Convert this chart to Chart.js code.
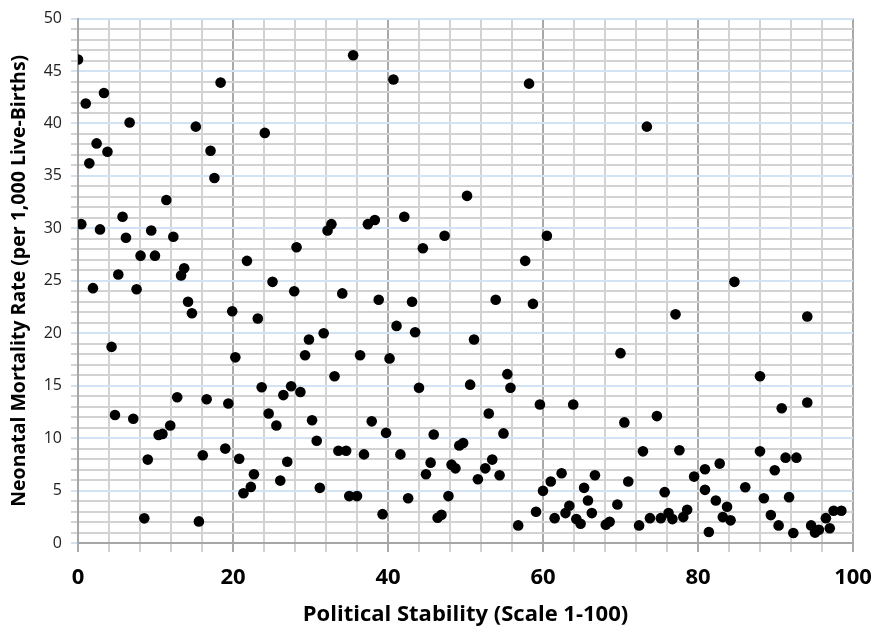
<!DOCTYPE html>
<html>
<head>
<meta charset="utf-8">
<script src="https://cdn.jsdelivr.net/npm/chart.js@4"></script>
<style>
  html, body { margin: 0; padding: 0; background: #fff; }
  #wrap { width: 873px; height: 630px; }
</style>
</head>
<body>
<div id="wrap"><canvas id="scatter" width="873" height="630"></canvas></div>
<script>
// Political stability (x) and neonatal mortality rate (y)
const stability = [
  0.0, 1.0, 3.35, 6.66, 2.4, 3.8, 1.46, 15.2, 18.4, 17.1, 17.6, 24.1, 11.4, 5.75,
  35.5, 40.7, 58.2, 50.2, 42.1, 73.4, 0.43, 2.84, 6.19, 1.93, 5.2, 8.07, 7.56, 9.45,
  9.93, 12.3, 13.7, 13.3, 14.2, 14.7, 4.33, 12.8, 16.6, 19.4, 4.77, 7.13, 21.8, 19.9,
  20.3, 23.2, 25.1, 27.9, 28.2, 23.7, 26.5, 27.5, 28.7, 24.6, 32.7, 32.2, 37.4, 38.3,
  47.3, 60.5, 44.5, 57.7, 34.1, 38.8, 43.1, 53.9, 58.7, 41.1, 43.5, 31.7, 29.8, 51.1,
  29.3, 36.4, 40.2, 33.1, 55.4, 55.8, 50.6, 44.0, 59.6, 63.9, 53.0, 30.2, 37.9, 84.7,
  77.1, 94.1, 70.0, 88.0, 90.8, 94.1, 74.7, 70.5, 10.4, 10.9, 11.9, 9.0, 8.55, 15.6,
  16.1, 19.0, 20.8, 22.7, 22.3, 21.35, 26.1, 27.0, 25.6, 30.8, 31.2, 33.6, 34.6, 35.0,
  36.0, 36.9, 39.75, 39.3, 41.6, 42.6, 44.9, 45.5, 45.9, 46.4, 46.9, 47.8, 48.2, 48.7,
  49.2, 49.7, 51.6, 52.55, 53.45, 54.4, 54.9, 56.8, 59.1, 60.0, 61.0, 62.4, 61.5, 62.9,
  63.4, 64.3, 64.85, 65.3, 65.8, 66.3, 66.7, 68.1, 68.6, 69.6, 71.0, 72.4, 72.9, 73.8,
  75.2, 75.7, 76.2, 76.7, 77.6, 78.1, 78.6, 79.5, 80.9, 80.9, 81.4, 82.3, 82.8, 83.75,
  83.2, 84.2, 86.1, 88.0, 88.5, 89.4, 89.9, 90.4, 91.3, 91.75, 92.3, 92.7, 94.6, 95.1,
  95.6, 96.5, 97.0, 97.5, 98.5
];
const mortality = [
  46.1, 41.9, 42.9, 40.1, 38.1, 37.3, 36.2, 39.7, 43.9, 37.4, 34.8, 39.1, 32.7, 31.1,
  46.5, 44.2, 43.8, 33.1, 31.1, 39.7, 30.4, 29.9, 29.1, 24.3, 25.6, 27.4, 24.2, 29.8,
  27.4, 29.2, 26.2, 25.5, 23.0, 21.9, 18.7, 13.9, 13.7, 13.3, 12.2, 11.85, 26.9, 22.1,
  17.7, 21.4, 24.9, 24.0, 28.2, 14.85, 14.1, 14.95, 14.4, 12.35, 30.4, 29.8, 30.4, 30.8,
  29.3, 29.3, 28.1, 26.9, 23.8, 23.2, 23.0, 23.2, 22.8, 20.7, 20.1, 20.0, 19.4, 19.4,
  17.9, 17.9, 17.6, 15.9, 16.1, 14.8, 15.1, 14.8, 13.2, 13.2, 12.35, 11.7, 11.6, 24.9,
  21.8, 21.6, 18.1, 15.9, 12.85, 13.4, 12.1, 11.5, 10.3, 10.4, 11.2, 7.95, 2.35, 2.06,
  8.36, 9.0, 8.04, 6.55, 5.35, 4.75, 5.95, 7.75, 11.2, 9.75, 5.26, 8.8, 8.8, 4.47,
  4.47, 8.45, 10.5, 2.75, 8.45, 4.27, 6.55, 7.66, 10.35, 2.41, 2.7, 4.47, 7.47, 7.12,
  9.3, 9.53, 6.08, 7.12, 7.95, 6.46, 10.45, 1.68, 2.98, 4.97, 5.86, 6.65, 2.37, 2.85,
  3.55, 2.28, 1.84, 5.26, 4.05, 2.85, 6.46, 1.75, 2.03, 3.67, 5.86, 1.68, 8.74, 2.37,
  2.37, 4.85, 2.85, 2.28, 8.84, 2.47, 3.17, 6.33, 7.03, 5.07, 1.05, 4.05, 7.57, 3.46,
  2.47, 2.16, 5.32, 8.74, 4.27, 2.66, 6.93, 1.68, 8.14, 4.37, 0.95, 8.14, 1.68, 0.99,
  1.27, 2.37, 1.4, 3.08, 3.08
];
const xLabelTicks = [0, 20, 40, 60, 80, 100];
const yLabelTicks = [0, 5, 10, 15, 20, 25, 30, 35, 40, 45, 50];

const points = stability.map((x, i) => ({ x: x, y: mortality[i] }));

const ctx = document.getElementById('scatter').getContext('2d');

new Chart(ctx, {
  type: 'scatter',
  data: {
    datasets: [{
      label: 'Countries',
      data: points,
      backgroundColor: '#000',
      borderColor: '#000',
      borderWidth: 0,
      pointRadius: 5.3,
      pointHoverRadius: 5.3
    }]
  },
  options: {
    responsive: false,
    animation: false,
    layout: { padding: { top: 16, right: 20, left: 0, bottom: 0 } },
    plugins: {
      legend: { display: false },
      tooltip: { enabled: false }
    },
    scales: {
      x: {
        type: 'linear',
        min: 0,
        max: 100,
        afterFit: s => {
          s.height = 87;
          s.paddingRight = 10;  // let the "100" label hang into the right margin
        },
        ticks: {
          stepSize: 4,
          autoSkip: false,
          maxRotation: 0,
          padding: 13,
          color: '#000',
          font: { family: 'Open Sans', size: 22, weight: 'bold' },
          callback: v => xLabelTicks.includes(v) ? String(v) : ''
        },
        grid: {
          lineWidth: 2,
          tickLength: 9,
          color: c => (c.tick && c.tick.value % 20 === 0) ? '#a9a9a9' : '#d2d2d2'
        },
        border: { color: '#a6a6a6', width: 2 },
        title: {
          display: true,
          text: 'Political Stability (Scale 1-100)',
          color: '#000',
          font: { family: 'Open Sans', size: 22, weight: 'bold' },
          padding: { top: 0, bottom: 2 }
        }
      },
      y: {
        type: 'linear',
        min: 0,
        max: 50,
        afterFit: s => { s.width = 78; },
        ticks: {
          stepSize: 1,
          autoSkip: false,
          padding: 9,
          color: '#222',
          font: { family: 'Open Sans', size: 16 },
          callback: v => yLabelTicks.includes(v) ? String(v) : ''
        },
        grid: {
          lineWidth: 2,
          tickLength: 7,
          color: c => (c.tick && c.tick.value % 5 === 0) ? '#d3e3f4' : '#d2d2d2'
        },
        border: { color: '#a6a6a6', width: 2 },
        title: {
          display: true,
          text: 'Neonatal Mortality Rate (per 1,000 Live-Births)',
          color: '#000',
          font: { family: 'Open Sans', size: 19.5, weight: 'bold' },
          padding: { top: 8, bottom: 0 }
        }
      }
    }
  }
});
</script>
</body>
</html>
